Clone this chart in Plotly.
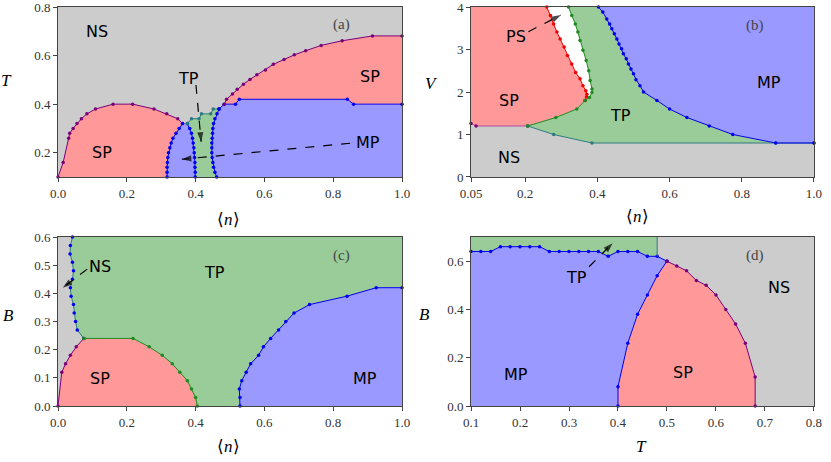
import plotly.graph_objects as go

# ---------------- colours ----------------
C_NS = "#cccccc"
C_SP = "#ff9999"
C_TP = "#99cc99"
C_MP = "#9999ff"
C_PURPLE = "#7a007a"
C_BLUE = "#0000ee"
C_TEAL = "#2e7a80"
C_GREEN = "#1f8a1f"
C_RED = "#ee0000"

# ---------------- panel (a): T vs <n> ----------------
a_dome_n = [0.0, 0.015, 0.031, 0.034, 0.044, 0.055, 0.068, 0.084, 0.109, 0.16, 0.217, 0.279, 0.316, 0.348, 0.362]
a_dome_T = [0.10, 0.16, 0.26, 0.28, 0.30, 0.32, 0.34, 0.36, 0.38, 0.40, 0.40, 0.38, 0.36, 0.34, 0.32]
a_spmp_n = [0.362, 0.352, 0.343, 0.334, 0.329, 0.325, 0.321, 0.319, 0.318, 0.317, 0.317, 0.317]
a_spmp_T = [0.32, 0.30, 0.28, 0.26, 0.24, 0.22, 0.20, 0.18, 0.16, 0.14, 0.12, 0.10]
a_tpl_n = [0.376, 0.383, 0.388, 0.391, 0.393, 0.395, 0.396, 0.397, 0.398, 0.398, 0.399, 0.399]
a_tpl_T = [0.32, 0.30, 0.28, 0.26, 0.24, 0.22, 0.20, 0.18, 0.16, 0.14, 0.12, 0.10]
a_tptop_n = [0.376, 0.388, 0.41, 0.417, 0.444, 0.451, 0.468]
a_tptop_T = [0.32, 0.34, 0.34, 0.36, 0.36, 0.38, 0.38]
a_tpr_n = [0.468, 0.462, 0.456, 0.452, 0.450, 0.449, 0.448, 0.447, 0.447, 0.447, 0.448, 0.450, 0.452, 0.456, 0.461]
a_tpr_T = [0.38, 0.36, 0.34, 0.32, 0.30, 0.28, 0.26, 0.24, 0.22, 0.20, 0.18, 0.16, 0.14, 0.12, 0.10]
a_mptop_n = [0.468, 0.483, 0.516, 0.527, 0.841, 0.859, 1.0]
a_mptop_T = [0.38, 0.40, 0.40, 0.42, 0.42, 0.40, 0.40]
a_sptop_n = [0.483, 0.49, 0.507, 0.521, 0.539, 0.558, 0.578, 0.603, 0.626, 0.657, 0.687, 0.72, 0.765, 0.826, 0.914, 1.0]
a_sptop_T = [0.40, 0.42, 0.442, 0.461, 0.482, 0.502, 0.521, 0.541, 0.564, 0.584, 0.603, 0.62, 0.642, 0.661, 0.681, 0.681]

# ---------------- panel (b): V vs <n> ----------------
b_nssp_n = [0.05, 0.064, 0.207]
b_nssp_V = [1.26, 1.2, 1.2]
b_nstp_n = [0.207, 0.279, 0.385, 0.894, 1.0]
b_nstp_V = [1.2, 1.0, 0.8, 0.8, 0.8]
b_sptp_n = [0.207, 0.285, 0.343, 0.366]
b_sptp_V = [1.2, 1.4, 1.6, 1.8]
b_red_n = [0.366, 0.370, 0.371, 0.368, 0.360, 0.352, 0.340, 0.329, 0.317, 0.308, 0.297, 0.288, 0.279, 0.270, 0.260]
b_red_V = [1.8, 1.88, 1.95, 2.03, 2.15, 2.31, 2.46, 2.66, 2.86, 3.06, 3.25, 3.41, 3.6, 3.8, 4.0]
b_grn_n = [0.366, 0.378, 0.385, 0.385, 0.380, 0.376, 0.369, 0.360, 0.352, 0.346, 0.339, 0.329, 0.320]
b_grn_V = [1.8, 1.87, 1.99, 2.07, 2.27, 2.5, 2.74, 2.98, 3.21, 3.41, 3.6, 3.8, 4.0]
b_mp_n = [0.403, 0.415, 0.426, 0.434, 0.44, 0.447, 0.454, 0.46, 0.467, 0.472, 0.48, 0.486, 0.493, 0.5, 0.507,
          0.518, 0.528, 0.565, 0.6, 0.648, 0.71, 0.775, 0.894]
b_mp_V = [4.0, 3.88, 3.72, 3.6, 3.49, 3.37, 3.25, 3.13, 3.02, 2.9, 2.78, 2.66, 2.54, 2.43, 2.29,
          2.15, 2.0, 1.8, 1.6, 1.4, 1.2, 1.0, 0.8]

# ---------------- panel (c): B vs <n> ----------------
c_nstp_n = [0.042, 0.036, 0.035, 0.042, 0.045, 0.042, 0.036, 0.038, 0.045, 0.047, 0.051, 0.056, 0.075]
c_nstp_B = [0.60, 0.57, 0.54, 0.51, 0.48, 0.45, 0.42, 0.39, 0.36, 0.33, 0.30, 0.27, 0.24]
c_nssp_n = [0.0, 0.011, 0.022, 0.036, 0.053, 0.075]
c_nssp_B = [0.0, 0.12, 0.15, 0.18, 0.21, 0.24]
c_sptp_n = [0.075, 0.218, 0.265, 0.303, 0.332, 0.354, 0.376, 0.388, 0.400, 0.405]
c_sptp_B = [0.24, 0.24, 0.21, 0.18, 0.15, 0.12, 0.09, 0.06, 0.03, 0.0]
c_mp_n = [0.529, 0.529, 0.527, 0.534, 0.547, 0.56, 0.583, 0.597, 0.618, 0.641, 0.662, 0.686, 0.731, 0.84, 0.925, 1.0]
c_mp_B = [0.0, 0.03, 0.06, 0.09, 0.12, 0.15, 0.18, 0.21, 0.24, 0.27, 0.30, 0.33, 0.36, 0.39, 0.42, 0.42]

# ---------------- panel (d): B vs T ----------------
d_tpmp_T = [0.10, 0.12, 0.14, 0.16, 0.18, 0.20, 0.22, 0.24, 0.26, 0.28, 0.30, 0.32, 0.34, 0.36, 0.38,
            0.40, 0.42, 0.44, 0.46, 0.48, 0.50]
d_tpmp_B = [0.64, 0.64, 0.64, 0.66, 0.66, 0.66, 0.66, 0.66, 0.64, 0.64, 0.64, 0.64, 0.64, 0.64, 0.62,
            0.64, 0.64, 0.64, 0.62, 0.62, 0.60]
d_mpsp_T = [0.40, 0.40, 0.42, 0.44, 0.46, 0.48, 0.50]
d_mpsp_B = [0.0, 0.08, 0.26, 0.38, 0.46, 0.54, 0.60]
d_spns_T = [0.50, 0.52, 0.54, 0.56, 0.58, 0.60, 0.62, 0.64, 0.66, 0.68, 0.68]
d_spns_B = [0.60, 0.58, 0.56, 0.52, 0.50, 0.46, 0.40, 0.34, 0.26, 0.12, 0.0]
d_tpedge_T = [0.48, 0.48]
d_tpedge_B = [0.62, 0.70]

# ---------------- axes / ticks ----------------
a_xrange, a_yrange = [0.0, 1.0], [0.1, 0.8]
b_xrange, b_yrange = [0.05, 1.0], [0.0, 4.0]
c_xrange, c_yrange = [0.0, 1.0], [0.0, 0.6]
d_xrange, d_yrange = [0.1, 0.8], [0.0, 0.7]
a_xticks = [0.0, 0.2, 0.4, 0.6, 0.8, 1.0]
a_xtext = ["0.0", "0.2", "0.4", "0.6", "0.8", "1.0"]
a_yticks = [0.2, 0.4, 0.6, 0.8]
a_ytext = ["0.2", "0.4", "0.6", "0.8"]
b_xticks = [0.05, 0.2, 0.4, 0.6, 0.8, 1.0]
b_xtext = ["0.05", "0.2", "0.4", "0.6", "0.8", "1.0"]
b_yticks = [0, 1, 2, 3, 4]
b_ytext = ["0", "1", "2", "3", "4"]
c_xticks = a_xticks
c_xtext = a_xtext
c_yticks = [0.0, 0.1, 0.2, 0.3, 0.4, 0.5, 0.6]
c_ytext = ["0.0", "0.1", "0.2", "0.3", "0.4", "0.5", "0.6"]
d_xticks = [0.1, 0.2, 0.3, 0.4, 0.5, 0.6, 0.7, 0.8]
d_xtext = ["0.1", "0.2", "0.3", "0.4", "0.5", "0.6", "0.7", "0.8"]
d_yticks = [0.0, 0.2, 0.4, 0.6]
d_ytext = ["0.0", "0.2", "0.4", "0.6"]

fig = go.Figure()


def poly(xs, ys, color, k):
    fig.add_trace(go.Scatter(x=xs, y=ys, fill="toself", fillcolor=color, mode="none",
                             line=dict(width=0), hoverinfo="skip", showlegend=False,
                             xaxis="x" + k, yaxis="y" + k))


def bdry(xs, ys, lcolor, mcolor, k, markers=True):
    fig.add_trace(go.Scatter(x=xs, y=ys, mode="lines+markers" if markers else "lines",
                             line=dict(color=lcolor, width=1),
                             marker=dict(color=mcolor, size=3.5),
                             hoverinfo="skip", showlegend=False, cliponaxis=False,
                             xaxis="x" + k, yaxis="y" + k))


def arrow(x0, y0, x1, y1, k):
    fig.add_trace(go.Scatter(x=[x0, x1], y=[y0, y1], mode="lines",
                             line=dict(color="black", width=1.2, dash="dash"),
                             hoverinfo="skip", showlegend=False,
                             xaxis="x" + k, yaxis="y" + k))
    fig.add_trace(go.Scatter(x=[x0, x1], y=[y0, y1], mode="markers",
                             marker=dict(symbol="arrow", size=[0, 10], angleref="previous",
                                         color=["black", "black"], line=dict(width=0)),
                             hoverinfo="skip", showlegend=False, cliponaxis=False,
                             xaxis="x" + k, yaxis="y" + k))


rev = lambda l: list(reversed(l))

# ---- panel a ----
k = ""
poly([0, 1, 1, 0], [0.1, 0.1, 0.8, 0.8], C_NS, k)
poly(a_dome_n + a_spmp_n, a_dome_T + a_spmp_T, C_SP, k)
poly([0.362] + a_tpl_n + rev(a_spmp_n), [0.32] + a_tpl_T + rev(a_spmp_T), C_MP, k)
poly(a_tpl_n + rev(a_tpr_n) + rev(a_tptop_n), a_tpl_T + rev(a_tpr_T) + rev(a_tptop_T), C_TP, k)
poly(rev(a_tpr_n) + a_mptop_n[1:] + [1.0], rev(a_tpr_T) + a_mptop_T[1:] + [0.1], C_MP, k)
poly(a_sptop_n + rev(a_mptop_n[1:]), a_sptop_T + rev(a_mptop_T[1:]), C_SP, k)
bdry(a_dome_n, a_dome_T, C_PURPLE, C_PURPLE, k)
bdry(a_spmp_n, a_spmp_T, C_BLUE, C_BLUE, k)
bdry(a_tpl_n, a_tpl_T, C_BLUE, C_BLUE, k)
bdry(a_tptop_n, a_tptop_T, C_TEAL, C_TEAL, k)
bdry(a_tpr_n, a_tpr_T, C_BLUE, C_BLUE, k)
bdry(a_mptop_n, a_mptop_T, C_BLUE, C_BLUE, k)
bdry(a_sptop_n, a_sptop_T, C_PURPLE, C_PURPLE, k)
arrow(0.401, 0.479, 0.416, 0.245, k)
arrow(0.849, 0.239, 0.36, 0.173, k)

# ---- panel b ----
k = "2"
poly([0.05, 1.0, 1.0] + rev(b_nstp_n) + rev(b_nssp_n), [0.0, 0.0, 0.8] + rev(b_nstp_V) + rev(b_nssp_V), C_NS, k)
poly(b_nssp_n + b_sptp_n[1:] + b_red_n[1:] + [0.05], b_nssp_V + b_sptp_V[1:] + b_red_V[1:] + [4.0], C_SP, k)
poly(b_nstp_n[:-1] + rev(b_mp_n) + rev(b_grn_n) + rev(b_sptp_n)[1:],
     b_nstp_V[:-1] + rev(b_mp_V) + rev(b_grn_V) + rev(b_sptp_V)[1:], C_TP, k)
poly(b_mp_n + [1.0, 1.0], b_mp_V + [0.8, 4.0], C_MP, k)
bdry(b_nssp_n, b_nssp_V, "#b04d9a", C_PURPLE, k)
bdry(b_nstp_n, b_nstp_V, C_TEAL, C_TEAL, k)
bdry(b_sptp_n, b_sptp_V, C_GREEN, C_GREEN, k)
bdry(b_red_n, b_red_V, C_RED, C_RED, k)
bdry(b_grn_n, b_grn_V, C_GREEN, C_GREEN, k)
bdry(b_mp_n + [1.0], b_mp_V + [0.8], C_BLUE, C_BLUE, k)
arrow(0.209, 3.42, 0.299, 3.81, k)

# ---- panel c ----
k = "3"
poly([0, 1, 1, 0], [0, 0, 0.6, 0.6], C_NS, k)
poly(c_nstp_n + c_sptp_n[1:] + c_mp_n + [1.0], c_nstp_B + c_sptp_B[1:] + c_mp_B + [0.6], C_TP, k)
poly(c_nssp_n + c_sptp_n[1:], c_nssp_B + c_sptp_B[1:], C_SP, k)
poly(c_mp_n + [1.0], c_mp_B + [0.0], C_MP, k)
bdry(c_nstp_n, c_nstp_B, C_TEAL, C_BLUE, k)
bdry(c_nssp_n, c_nssp_B, C_PURPLE, C_PURPLE, k)
bdry(c_sptp_n, c_sptp_B, C_GREEN, C_GREEN, k)
bdry(c_mp_n, c_mp_B, C_BLUE, C_BLUE, k)
arrow(0.085, 0.486, 0.014, 0.42, k)

# ---- panel d ----
k = "4"
poly([0.1, 0.8, 0.8, 0.1], [0, 0, 0.7, 0.7], C_NS, k)
poly([0.1] + d_tpmp_T + rev(d_mpsp_T), [0.0] + d_tpmp_B + rev(d_mpsp_B), C_MP, k)
poly([0.1] + d_tpmp_T[:-1] + [0.48], [0.7] + d_tpmp_B[:-1] + [0.7], C_TP, k)
poly(d_mpsp_T + d_spns_T[1:], d_mpsp_B + d_spns_B[1:], C_SP, k)
bdry(d_tpmp_T, d_tpmp_B, C_BLUE, C_BLUE, k)
bdry(d_mpsp_T, d_mpsp_B, C_BLUE, C_BLUE, k)
bdry(d_spns_T, d_spns_B, C_PURPLE, C_PURPLE, k)
bdry(d_tpedge_T, d_tpedge_B, C_TEAL, C_TEAL, k, markers=False)
arrow(0.341, 0.577, 0.389, 0.674, k)

# ---------------- layout ----------------
TICKFONT = dict(family="Liberation Serif, serif", size=13, color="#333333")


def axis(domain, rng, tv, tt, anchor):
    return dict(domain=domain, range=rng, tickvals=tv, ticktext=tt, anchor=anchor,
                showgrid=False, zeroline=False, showline=True, mirror=True,
                linecolor="#444444", linewidth=1, ticks="outside", ticklen=4,
                tickcolor="#444444", tickfont=TICKFONT, fixedrange=True, automargin=False,
                ticklabeloverflow="allow")


XA = [0.0698, 0.4838]
XB = [0.5668, 0.9795]
YT = [0.6169, 0.9848]
YB = [0.1212, 0.487]

fig.update_layout(
    width=831, height=462, autosize=False,
    margin=dict(l=0, r=0, t=0, b=0, autoexpand=False),
    paper_bgcolor="white", plot_bgcolor="white",
    xaxis=axis(XA, a_xrange, a_xticks, a_xtext, "y"),
    yaxis=axis(YT, a_yrange, a_yticks, a_ytext, "x"),
    xaxis2=axis(XB, b_xrange, b_xticks, b_xtext, "y2"),
    yaxis2=axis(YT, b_yrange, b_yticks, b_ytext, "x2"),
    xaxis3=axis(XA, c_xrange, c_xticks, c_xtext, "y3"),
    yaxis3=axis(YB, c_yrange, c_yticks, c_ytext, "x3"),
    xaxis4=axis(XB, d_xrange, d_xticks, d_xtext, "y4"),
    yaxis4=axis(YB, d_yrange, d_yticks, d_ytext, "x4"),
)

LBL = dict(family="DejaVu Sans", size=16, color="black")
PANEL = dict(family="Liberation Serif, serif", size=15, color="#444444")
labels = [
    ("", "NS", 0.114, 0.70), ("", "SP", 0.127, 0.20), ("", "SP", 0.907, 0.513),
    ("", "TP", 0.379, 0.506), ("", "MP", 0.902, 0.241),
    ("2", "PS", 0.175, 3.30), ("2", "SP", 0.155, 1.80), ("2", "TP", 0.465, 1.44),
    ("2", "MP", 0.875, 2.23), ("2", "NS", 0.156, 0.47),
    ("3", "NS", 0.122, 0.495), ("3", "TP", 0.456, 0.475), ("3", "SP", 0.122, 0.098), ("3", "MP", 0.892, 0.096),
    ("4", "TP", 0.316, 0.531), ("4", "NS", 0.729, 0.49), ("4", "MP", 0.192, 0.131), ("4", "SP", 0.533, 0.140),
]
for k, t, x, y in labels:
    fig.add_annotation(text=t, x=x, y=y, xref="x" + k, yref="y" + k, showarrow=False, font=LBL,
                       xanchor="center", yanchor="middle")

panels = [("", "(a)", 0.824, 0.726), ("2", "(b)", 0.837, 3.57), ("3", "(c)", 0.825, 0.536), ("4", "(d)", 0.680, 0.625)]
for k, t, x, y in panels:
    fig.add_annotation(text=t, x=x, y=y, xref="x" + k, yref="y" + k, showarrow=False, font=PANEL,
                       xanchor="center", yanchor="middle")

TITLE = dict(family="Liberation Serif, serif", size=17, color="black")
titles = [
    ("<i>T</i>", 0.008, 0.825), ("<i>V</i>", 0.5195, 0.820), ("<i>B</i>", 0.010, 0.318), ("<i>B</i>", 0.5114, 0.320),
    ("⟨<i>n</i>⟩", 0.2747, 0.524), ("⟨<i>n</i>⟩", 0.7677, 0.531), ("⟨<i>n</i>⟩", 0.2744, 0.033), ("<i>T</i>", 0.772, 0.033),
]
for t, x, y in titles:
    fig.add_annotation(text=t, x=x, y=y, xref="paper", yref="paper", showarrow=False, font=TITLE,
                       xanchor="center", yanchor="middle")

fig.write_html("out.html", config={"displayModeBar": False},
               post_script="document.body.style.margin='0px';document.body.style.overflow='hidden';")
